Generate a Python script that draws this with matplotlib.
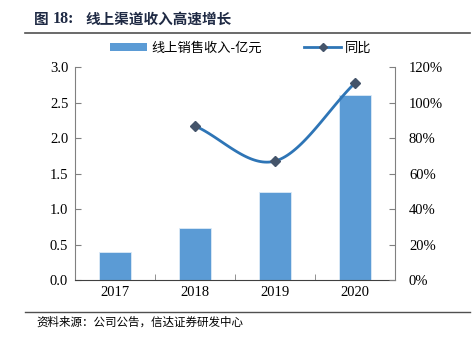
import numpy as np
import matplotlib
matplotlib.use("Agg")
import matplotlib.pyplot as plt
from matplotlib.lines import Line2D
from matplotlib.patches import Patch

years = ["2017", "2018", "2019", "2020"]
revenue = [0.39, 0.73, 1.24, 2.60]
yoy_years = ["2018", "2019", "2020"]
yoy = [0.868, 0.67, 1.11]

title = "图 18：线上渠道收入高速增长"
bar_label = "线上销售收入-亿元"
line_label = "同比"
source = "资料来源：公司公告，信达证券研发中心"

CJK = ["Noto Sans CJK SC", "DejaVu Sans"]
SERIF = ["Liberation Serif", "Noto Sans CJK SC"]

fig = plt.figure(figsize=(4.77, 3.37), dpi=100)
ax = fig.add_axes([75/477, 1-280/337, 320/477, 213/337])
ax2 = ax.twinx()

x = np.arange(len(years))
ax.bar(x, revenue, width=0.4, color="#5B9BD5", edgecolor="#DDEBF7", linewidth=0.6, zorder=2)
ax.set_xlim(-0.5, len(years)-0.5)
ax.set_ylim(0, 3.0)
ax.set_yticks(np.arange(0, 3.01, 0.5))
ax.set_yticklabels([f"{v:.1f}" for v in np.arange(0, 3.01, 0.5)], family=SERIF, fontsize=10.5)
ax.set_xticks(x)
ax.set_xticklabels(years, family=SERIF, fontsize=10.5)
ax.set_xticks(np.arange(0.5, len(years)-1, 1), minor=True)
ax.tick_params(axis="x", which="major", length=0, pad=4)
ax.tick_params(axis="x", which="minor", length=4, direction="in", color="#808080")
ax.tick_params(axis="y", length=4, direction="in", color="#808080", pad=18)
for lbl in ax.get_yticklabels():
    lbl.set_horizontalalignment("left")
for s in ["top", "right"]:
    ax.spines[s].set_visible(False)
for s in ["left", "bottom"]:
    ax.spines[s].set_color("#808080")
    ax.spines[s].set_linewidth(0.8)
ax.spines["bottom"].set_color("#404040")

# Smooth line (Catmull-Rom through data points)
xi = np.array([years.index(y) for y in yoy_years], dtype=float)
yi = np.array(yoy)
px = np.concatenate([[2*xi[0]-xi[1]], xi, [2*xi[-1]-xi[-2]]])
py = np.concatenate([[2*yi[0]-yi[1]], yi, [2*yi[-1]-yi[-2]]])
sx, sy = [], []
t = np.linspace(0, 1, 40)
for i in range(1, len(px)-2):
    p0, p1, p2, p3 = [np.array([px[j], py[j]]) for j in range(i-1, i+3)]
    for tt in t:
        pt = 0.5*((2*p1) + (-p0+p2)*tt + (2*p0-5*p1+4*p2-p3)*tt**2 + (-p0+3*p1-3*p2+p3)*tt**3)
        sx.append(pt[0]); sy.append(pt[1])
ax2.plot(sx, sy, color="#2E75B6", linewidth=2, zorder=3)
ax2.plot(xi, yi, linestyle="none", marker="D", markersize=5, color="#44546A", zorder=4)
ax2.set_ylim(0, 1.2)
ticks2 = np.arange(0, 1.21, 0.2)
ax2.set_yticks(ticks2)
ax2.set_yticklabels([f"{int(round(v*100))}%" for v in ticks2], family=SERIF, fontsize=10.5)
ax2.tick_params(axis="y", length=4, direction="in", color="#808080", pad=10)
for s in ["top", "left", "bottom"]:
    ax2.spines[s].set_visible(False)
ax2.spines["right"].set_color("#808080")
ax2.spines["right"].set_linewidth(0.8)

# Title and rules
head, rest = title.split("：")
fig.text(34/477, 1-19/337, head.split(" ")[0], family=CJK, fontsize=10.5, fontweight="bold", color="#1F2A44", va="center")
fig.text(53/477, 1-19/337, head.split(" ")[1] + ":", family=SERIF, fontsize=11.5, fontweight="bold", color="#1F2A44", va="center")
fig.text(85/477, 1-19/337, rest, family=CJK, fontsize=10.5, fontweight="bold", color="#1F2A44", va="center")
fig.add_artist(Line2D([25/477, 470/477], [1-33/337, 1-33/337], color="#505050", linewidth=1.2))
fig.add_artist(Line2D([25/477, 470/477], [1-312/337, 1-312/337], color="#505050", linewidth=1.0))
fig.text(36/477, 1-322/337, source, family=CJK, fontsize=8.3, style="italic", va="center", color="#000000")

handles = [Patch(facecolor="#5B9BD5", edgecolor="none"),
           Line2D([0], [0], color="#2E75B6", linewidth=2, marker="D", markersize=4,
                  markerfacecolor="#44546A", markeredgecolor="#44546A")]
fig.legend(handles, [bar_label, line_label], loc="center", bbox_to_anchor=(0.505, 1-48/337),
           ncol=2, frameon=False, prop={"family": CJK, "size": 9.5},
           handlelength=2.8, handleheight=0.6, columnspacing=3.2, handletextpad=0.3)

fig.savefig("out.png", dpi=100)
